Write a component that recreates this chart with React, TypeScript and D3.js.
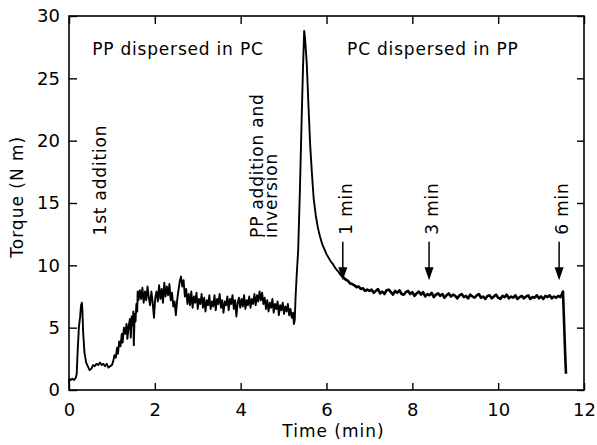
import * as d3 from 'd3'
import { useRef, useEffect } from 'react'

const W = 597, H = 445
const M = { top: 16, right: 13, bottom: 55, left: 69 }
const FONT = '"DejaVu Sans", sans-serif'

// torque trace (time in min, torque in N m)
const INITIAL: [number, number][] = [
  [0.00, 0.5], [0.01, 0.9], [0.04, 0.8], [0.08, 0.9], [0.12, 0.8], [0.16, 1.0], [0.18, 1.3],
  [0.20, 3.0], [0.23, 5.0], [0.26, 5.9], [0.28, 6.8], [0.30, 7.0], [0.31, 6.6], [0.33, 4.6],
  [0.36, 3.0], [0.40, 2.2], [0.44, 1.9], [0.48, 1.6], [0.52, 1.7], [0.56, 2.0], [0.60, 1.9],
  [0.64, 2.1], [0.68, 2.0], [0.72, 2.2], [0.76, 2.0], [0.80, 2.1], [0.84, 1.9], [0.88, 2.1],
  [0.92, 1.8], [0.96, 1.9], [1.00, 2.0],
]

const RISE: [number, number][] = [
  [1.03, 2.3], [1.06, 2.8], [1.09, 2.6], [1.12, 3.4], [1.14, 2.9], [1.17, 3.9], [1.20, 3.5],
  [1.23, 4.5], [1.25, 3.8], [1.28, 5.0], [1.31, 4.5], [1.34, 5.3], [1.36, 4.1], [1.39, 5.1],
  [1.42, 5.7], [1.44, 4.2], [1.46, 5.9], [1.48, 5.2], [1.50, 6.3], [1.51, 3.6], [1.53, 6.1],
  [1.55, 5.5], [1.57, 6.9], [1.59, 6.3], [1.60, 7.9],
]

const PLATEAU: [number, number][] = [
  [1.62, 7.2], [1.65, 8.0], [1.68, 7.3], [1.71, 8.2], [1.74, 7.0], [1.77, 7.9], [1.80, 7.2],
  [1.83, 8.3], [1.86, 7.4], [1.89, 6.8], [1.92, 7.9], [1.95, 7.0], [1.98, 5.8], [2.01, 7.4],
  [2.04, 7.9], [2.07, 7.1], [2.10, 8.4], [2.13, 7.3], [2.16, 8.1], [2.19, 7.0], [2.22, 8.6],
  [2.25, 7.5], [2.28, 8.3], [2.31, 7.6], [2.34, 8.5], [2.37, 7.2], [2.40, 7.8], [2.43, 6.7],
  [2.46, 7.1], [2.49, 6.0], [2.52, 7.2], [2.55, 8.0], [2.58, 8.7], [2.61, 9.1], [2.64, 8.3],
  [2.67, 8.8], [2.70, 7.5], [2.73, 8.1], [2.76, 6.9], [2.79, 7.7], [2.82, 6.8], [2.85, 7.9],
  [2.88, 6.6], [2.91, 7.5], [2.94, 7.0], [2.97, 7.8], [3.00, 6.5], [3.03, 7.3], [3.06, 6.9],
  [3.09, 7.7], [3.12, 6.6], [3.15, 7.4], [3.18, 6.3], [3.21, 7.2], [3.24, 6.8], [3.27, 7.6],
  [3.30, 6.5], [3.33, 7.1], [3.36, 6.7], [3.39, 7.6], [3.42, 6.4], [3.45, 7.3], [3.48, 6.9],
  [3.51, 7.7], [3.54, 6.6], [3.57, 7.2], [3.60, 6.2], [3.63, 7.1], [3.66, 6.8], [3.69, 7.5],
  [3.72, 6.4], [3.75, 7.3], [3.78, 6.9], [3.81, 7.6], [3.84, 6.5], [3.87, 7.2], [3.90, 5.9],
  [3.93, 7.0], [3.96, 7.4], [3.99, 6.6], [4.02, 7.3], [4.05, 6.7], [4.08, 7.6], [4.11, 6.5],
  [4.14, 7.2], [4.17, 6.8], [4.20, 7.5], [4.23, 6.6], [4.26, 7.3], [4.29, 6.9], [4.32, 7.7],
  [4.35, 6.8], [4.38, 7.6], [4.41, 7.1], [4.44, 7.9], [4.47, 7.2], [4.50, 7.8], [4.53, 6.9],
  [4.56, 7.4], [4.59, 6.5], [4.62, 7.2], [4.65, 6.3], [4.68, 7.0], [4.71, 6.6], [4.74, 7.3],
  [4.77, 6.2], [4.80, 6.9], [4.83, 6.5], [4.86, 7.1], [4.89, 6.0], [4.92, 6.8], [4.95, 6.4],
  [4.98, 7.0], [5.01, 6.1], [5.04, 6.7], [5.07, 6.3], [5.10, 6.9], [5.13, 6.0], [5.16, 6.5],
  [5.19, 5.8], [5.22, 6.2], [5.24, 5.3], [5.26, 5.6],
]

const PEAK: [number, number][] = [
  [5.28, 7.5], [5.31, 9.5], [5.34, 11.2], [5.38, 16.0], [5.42, 21.6], [5.45, 25.5], [5.48, 28.8],
  [5.50, 28.2], [5.54, 26.2], [5.58, 22.8], [5.62, 19.6], [5.66, 17.4], [5.70, 15.4], [5.75, 14.0],
  [5.80, 13.0], [5.85, 12.3], [5.90, 11.7], [5.95, 11.3], [6.00, 10.9], [6.05, 10.6], [6.10, 10.3],
  [6.15, 10.1], [6.20, 9.8], [6.25, 9.6], [6.30, 9.4], [6.35, 9.2], [6.40, 9.0], [6.45, 8.85],
  [6.50, 8.75], [6.55, 8.55], [6.60, 8.5], [6.65, 8.4], [6.70, 8.25], [6.75, 8.3], [6.80, 8.1],
  [6.85, 8.15], [6.90, 7.95], [6.95, 8.05],
]

const STEADY: [number, number][] = [
  [7.00, 7.95], [7.05, 8.05], [7.10, 7.8], [7.15, 7.95], [7.20, 8.1], [7.25, 7.75], [7.30, 7.9],
  [7.35, 7.7], [7.40, 8.0], [7.45, 8.05], [7.50, 7.85], [7.55, 7.65], [7.60, 7.95], [7.65, 7.8],
  [7.70, 8.0], [7.75, 7.7], [7.80, 7.65], [7.85, 7.85], [7.90, 7.95], [7.95, 7.7], [8.00, 7.85],
  [8.05, 7.55], [8.10, 7.75], [8.15, 7.9], [8.20, 7.65], [8.25, 7.85], [8.30, 7.5], [8.35, 7.7],
  [8.40, 7.6], [8.45, 7.8], [8.50, 7.45], [8.55, 7.65], [8.60, 7.75], [8.65, 7.55], [8.70, 7.7],
  [8.75, 7.4], [8.80, 7.6], [8.85, 7.75], [8.90, 7.5], [8.95, 7.65], [9.00, 7.55], [9.05, 7.35],
  [9.10, 7.6], [9.15, 7.7], [9.20, 7.45], [9.25, 7.55], [9.30, 7.35], [9.35, 7.65], [9.40, 7.5],
  [9.45, 7.4], [9.50, 7.6], [9.55, 7.7], [9.60, 7.4], [9.65, 7.5], [9.70, 7.3], [9.75, 7.55],
  [9.80, 7.6], [9.85, 7.35], [9.90, 7.5], [9.95, 7.65], [10.00, 7.4], [10.05, 7.3], [10.10, 7.55],
  [10.15, 7.45], [10.20, 7.65], [10.25, 7.35], [10.30, 7.5], [10.35, 7.4], [10.40, 7.6], [10.45, 7.3],
  [10.50, 7.45], [10.55, 7.55], [10.60, 7.35], [10.65, 7.5], [10.70, 7.6], [10.75, 7.3], [10.80, 7.45],
  [10.85, 7.4], [10.90, 7.6], [10.95, 7.35], [11.00, 7.5], [11.05, 7.3], [11.10, 7.55], [11.15, 7.45],
  [11.20, 7.6], [11.25, 7.35], [11.30, 7.5], [11.35, 7.4], [11.40, 7.55], [11.45, 7.45], [11.48, 7.65],
  [11.51, 7.9], [11.53, 6.0], [11.56, 3.0], [11.58, 1.3],
]

const X_TICKS = [0, 2, 4, 6, 8, 10, 12]
const Y_TICKS = [0, 5, 10, 15, 20, 25, 30]

// arrows marking sampling times after inversion
const ARROWS = [
  { label: '1 min', t: 6.38 },
  { label: '3 min', t: 8.39 },
  { label: '6 min', t: 11.42 },
]
const ARROW_TOP = 11.9, ARROW_TIP = 8.8

export default function App() {
  const svgRef = useRef<SVGSVGElement>(null)

  useEffect(() => {
    const svg = d3.select(svgRef.current)
    svg.selectAll('*').remove()

    const x = d3.scaleLinear().domain([0, 12]).range([M.left, W - M.right])
    const y = d3.scaleLinear().domain([0, 30]).range([H - M.bottom, M.top])

    // Frame
    svg.append('rect').attr('x', M.left).attr('y', M.top)
      .attr('width', W - M.left - M.right).attr('height', H - M.top - M.bottom)
      .attr('fill', 'none').attr('stroke', '#000').attr('stroke-width', 1.6)

    // Axes with inward ticks
    const styleAxis = (g) => {
      g.select('.domain').remove()
      g.selectAll('line').attr('stroke', '#000').attr('stroke-width', 1.4)
      g.selectAll('text').attr('fill', '#000').attr('font-family', FONT).attr('font-size', 18)
    }
    svg.append('g').attr('transform', `translate(0,${H - M.bottom})`)
      .call(d3.axisBottom(x).tickValues(X_TICKS).tickSizeInner(-7).tickSizeOuter(0).tickPadding(13).tickFormat(d3.format('d')))
      .call(styleAxis)
    svg.append('g').attr('transform', `translate(0,${M.top})`)
      .call(d3.axisTop(x).tickValues(X_TICKS).tickSizeInner(-8).tickSizeOuter(0).tickFormat(() => ''))
      .call(styleAxis)
    svg.append('g').attr('transform', `translate(${M.left},0)`)
      .call(d3.axisLeft(y).tickValues(Y_TICKS).tickSizeInner(-8).tickSizeOuter(0).tickPadding(9).tickFormat(d3.format('d')))
      .call(styleAxis)
    svg.append('g').attr('transform', `translate(${W - M.right},0)`)
      .call(d3.axisRight(y).tickValues(Y_TICKS).tickSizeInner(-7).tickSizeOuter(0).tickFormat(() => ''))
      .call(styleAxis)

    // Torque trace; the noisy late part is drawn a little heavier
    const line = d3.line<[number, number]>().x((d) => x(d[0])).y((d) => y(d[1]))
    const early = [...INITIAL, ...RISE, ...PLATEAU, ...PEAK]
    svg.append('path').datum(early).attr('d', line)
      .attr('fill', 'none').attr('stroke', '#000').attr('stroke-width', 1.9).attr('stroke-linejoin', 'round')
    svg.append('path').datum([...PEAK.slice(-14), ...STEADY]).attr('d', line)
      .attr('fill', 'none').attr('stroke', '#000').attr('stroke-width', 2.6).attr('stroke-linejoin', 'round')

    const txt = (px, py, s, rotate = false) => {
      const t = svg.append('text').attr('font-family', FONT).attr('font-size', 17)
        .attr('letter-spacing', 0.8).attr('fill', '#000').text(s)
      if (rotate) t.attr('transform', `translate(${px},${py}) rotate(-90)`)
      else t.attr('x', px).attr('y', py)
      return t
    }

    // Region labels
    txt(x(0.54), y(26.9), 'PP dispersed in PC')
    txt(x(6.48), y(26.9), 'PC dispersed in PP')
    txt(x(0.86), y(12.4), '1st addition', true)
    txt(x(4.52), y(12.2), 'PP addition and', true)
    txt(x(4.84), y(12.2), 'inversion', true)

    // Arrows
    ARROWS.forEach((a) => {
      const ax = x(a.t), y0 = y(ARROW_TOP), y1 = y(ARROW_TIP)
      svg.append('line').attr('x1', ax).attr('x2', ax).attr('y1', y0).attr('y2', y1 - 6)
        .attr('stroke', '#000').attr('stroke-width', 1.5)
      svg.append('path').attr('d', `M${ax - 4.5},${y1 - 13} L${ax + 4.5},${y1 - 13} L${ax},${y1} Z`).attr('fill', '#000')
      txt(ax + 9, y0 - 7, a.label, true)
    })

    // Axis titles
    svg.append('text').attr('x', (M.left + W - M.right) / 2 + 7).attr('y', 437).attr('text-anchor', 'middle')
      .attr('font-family', FONT).attr('font-size', 17).attr('letter-spacing', 1).text('Time (min)')
    svg.append('text').attr('transform', `translate(23,${y(15.5)}) rotate(-90)`).attr('text-anchor', 'middle')
      .attr('font-family', FONT).attr('font-size', 17).attr('letter-spacing', 1).text('Torque (N m)')
  }, [])

  return (
    <svg ref={svgRef} width={W} height={H} viewBox={`0 0 ${W} ${H}`}
      style={{ position: 'absolute', left: 0, top: 0, background: '#fff' }} />
  )
}
